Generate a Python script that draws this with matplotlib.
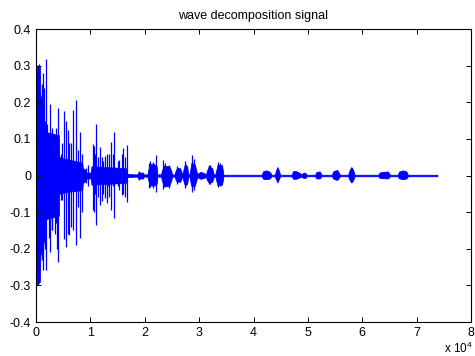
import matplotlib
matplotlib.use("Agg")
import matplotlib.pyplot as plt

plt.rcParams['font.family'] = ['Liberation Sans', 'DejaVu Sans']
plt.rcParams['mathtext.fontset'] = 'custom'
plt.rcParams['mathtext.rm'] = 'Liberation Sans'
plt.rcParams['mathtext.default'] = 'regular'

# dense core of the signal (sample index, upper, lower)
env_x = [0, 150, 700, 800, 1450, 1500, 4200, 4250, 5500, 8500, 8600, 9200,
         9250, 10100, 10200, 16500, 16700, 18700, 18750, 19700, 19800, 20500,
         20600, 20900, 21600, 22200, 22300, 23000, 23100, 23500, 24500, 24900,
         25000, 25500, 25550, 25900, 26500, 26780, 26850, 26950, 27020, 27400,
         27800, 27940, 28050, 28250, 28310, 28600, 29200, 29540, 29650, 29750,
         29800, 30300, 31000, 31100, 31300, 31370, 31800, 32400, 32600, 32700,
         33000, 33090, 33400, 34200, 34400, 34450,
         41500, 41800, 42400, 43000, 43300, 43900, 44200, 44400, 44600,
         44900, 47000, 47300, 47800, 48500, 48800, 49100, 49450, 49800, 51300,
         51600, 52200, 52500, 54400, 54700, 55400, 55900, 57400, 57700, 58000,
         58300, 58600, 62900, 63300, 64700, 65100, 66500, 66800, 67500, 68100,
         68400, 73800]
env_hi = [0.25, 0.30, 0.30, 0.22, 0.18, 0.12, 0.11, 0.05, 0.045, 0.035, 0.02, 0.015,
          0.008, 0.008, 0.025, 0.02, 0.004, 0.003, 0.008, 0.008, 0.003, 0.003,
          0.012, 0.03, 0.032, 0.025, 0.003, 0.003, 0.01, 0.027, 0.025, 0.012,
          0.003, 0.003, 0.008, 0.02, 0.02, 0.008, 0.003, 0.003, 0.01, 0.032,
          0.025, 0.008, 0.003, 0.003, 0.01, 0.035, 0.03, 0.01, 0.003, 0.003,
          0.006, 0.01, 0.006, 0.003, 0.003, 0.01, 0.026, 0.02, 0.008, 0.003,
          0.003, 0.01, 0.03, 0.028, 0.01, 0.002,
          0.002, 0.012, 0.014, 0.010, 0.002, 0.002, 0.016, 0.023, 0.016,
          0.002, 0.002, 0.012, 0.012, 0.007, 0.003, 0.007, 0.008, 0.002, 0.002,
          0.010, 0.011, 0.002, 0.002, 0.012, 0.015, 0.002, 0.002, 0.016, 0.023,
          0.016, 0.002, 0.002, 0.009, 0.011, 0.002, 0.002, 0.011, 0.014, 0.011,
          0.002, 0.002]
env_lo = [-0.23, -0.30, -0.29, -0.22, -0.18, -0.12, -0.11, -0.05, -0.045, -0.04, -0.02, -0.015,
          -0.008, -0.008, -0.025, -0.02, -0.004, -0.003, -0.008, -0.008, -0.003, -0.003,
          -0.01, -0.026, -0.028, -0.022, -0.003, -0.003, -0.01, -0.03, -0.028, -0.012,
          -0.003, -0.003, -0.007, -0.017, -0.017, -0.007, -0.003, -0.003, -0.01, -0.028,
          -0.022, -0.008, -0.003, -0.003, -0.01, -0.03, -0.028, -0.01, -0.003, -0.003,
          -0.006, -0.009, -0.006, -0.003, -0.003, -0.01, -0.02, -0.017, -0.008, -0.003,
          -0.003, -0.01, -0.027, -0.025, -0.01, -0.002,
          -0.002, -0.009, -0.010, -0.008, -0.002, -0.002, -0.012, -0.019, -0.012,
          -0.002, -0.002, -0.009, -0.009, -0.005, -0.003, -0.006, -0.007, -0.002, -0.002,
          -0.008, -0.008, -0.002, -0.002, -0.009, -0.012, -0.002, -0.002, -0.013, -0.019,
          -0.013, -0.002, -0.002, -0.007, -0.008, -0.002, -0.002, -0.008, -0.010, -0.008,
          -0.002, -0.002]

# individual peaks sticking out of the core (sample index, max, min)
spike_x = [610, 1040, 1200, 1340, 1470, 1700, 1900, 2100, 2390, 2630, 2900, 3000,
           3450, 3700, 3900, 4100, 4540, 4720, 5150, 5570, 5940, 6070, 6430, 6860,
           7290, 7660, 8150, 8510, 9200, 9620, 10420, 10660, 10900, 11030, 11400,
           11760, 12070, 12400, 12680, 12990, 13300, 13500, 13730, 14090, 14400,
           14800, 15000, 15260, 15750, 16050, 16300, 16780, 18990, 20830, 21000,
           21500, 22060, 23400, 23800, 24500, 26000, 27400, 28600, 29000, 31800,
           32000, 33500, 33900]
spike_hi = [0.305, 0.25, 0.28, 0.207, 0.24, 0.15, 0.318, 0.14, 0.11, 0.195, 0.13, 0.12,
            0.105, 0.13, 0.09, 0.185, 0.06, 0.09, 0.177, 0.15, 0.125, 0.09, 0.09, 0.179,
            0.205, 0.07, 0.12, 0.06, 0.02, 0.029, 0.085, 0.08, 0.06, 0.141, 0.05,
            0.079, 0.05, 0.04, 0.052, 0.06, 0.02, 0.06, 0.092, 0.06, 0.12,
            0.02, 0.04, 0.043, 0.06, 0.074, 0.05, 0.083, 0.011, 0.033, 0.04,
            0.038, 0.056, 0.042, 0.035, 0.03, 0.027, 0.04, 0.056, 0.045, 0.03,
            0.03, 0.036, 0.034]
spike_lo = [-0.286, -0.23, -0.258, -0.21, -0.18, -0.2, -0.258, -0.12, -0.17, -0.21, -0.15, -0.15,
            -0.16, -0.13, -0.2, -0.235, -0.067, -0.067, -0.174, -0.195, -0.16, -0.162, -0.14, -0.15,
            -0.19, -0.087, -0.17, -0.1, -0.02, -0.03, -0.094, -0.10, -0.05, -0.135, -0.06,
            -0.08, -0.07, -0.05, -0.062, -0.075, -0.03, -0.06, -0.094, -0.03, -0.117,
            -0.02, -0.03, -0.04, -0.053, -0.05, -0.06, -0.071, -0.011, -0.033, -0.032,
            -0.034, -0.044, -0.036, -0.03, -0.035, -0.022, -0.035, -0.044, -0.04, -0.022,
            -0.022, -0.032, -0.03]

x_ticks = [0, 10000, 20000, 30000, 40000, 50000, 60000, 70000, 80000]
x_labels = ['0', '1', '2', '3', '4', '5', '6', '7', '8']
y_ticks = [-0.4, -0.3, -0.2, -0.1, 0, 0.1, 0.2, 0.3, 0.4]
y_labels = ['-0.4', '-0.3', '-0.2', '-0.1', '0', '0.1', '0.2', '0.3', '0.4']

blue = '#0000ff'

fig = plt.figure(figsize=(4.75, 3.56), dpi=100)
ax = fig.add_axes([0.0758, 0.0955, 0.9158, 0.823])

ax.fill_between(env_x, env_lo, env_hi, color=blue, linewidth=0.6, edgecolor=blue)
ax.vlines(spike_x, spike_lo, spike_hi, color=blue, linewidth=0.9)

ax.set_xlim(0, 80000)
ax.set_ylim(-0.4, 0.4)
ax.set_xticks(x_ticks)
ax.set_xticklabels(x_labels)
ax.set_yticks(y_ticks)
ax.set_yticklabels(y_labels)
ax.tick_params(direction='in', length=3.5, width=0.7, labelsize=9,
               top=True, right=True, pad=3.5)
for s in ax.spines.values():
    s.set_linewidth(0.8)

ax.set_title('wave decomposition signal', fontsize=9, pad=7)
ax.text(1.003, -0.106, 'x 10$^{4}$', transform=ax.transAxes, ha='right',
        va='baseline', fontsize=8.5)

fig.savefig('out.png', dpi=100)
